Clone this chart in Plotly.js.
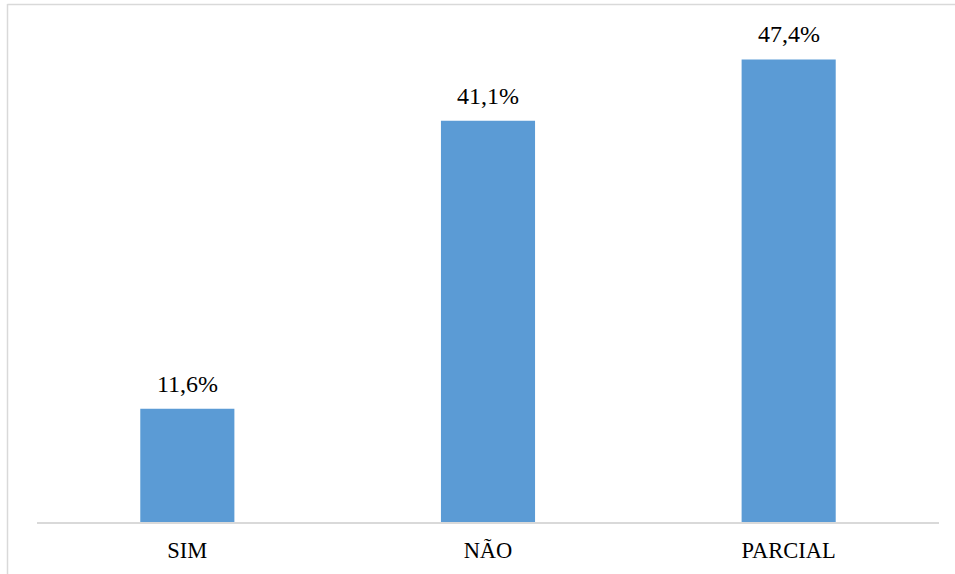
<!DOCTYPE html>
<html>
<head>
<meta charset="utf-8">
<script src="https://cdn.plot.ly/plotly-3.0.1.min.js"></script>
<style>
  html, body { margin: 0; padding: 0; background: #ffffff; }
</style>
</head>
<body>
<div id="fig" style="width:955px;height:574px"></div>
<script>
// Response categories and their shares (%)
const categories = ['SIM', 'NÃO', 'PARCIAL'];
const shares = [11.6, 41.1, 47.4];
const shareLabels = ['11,6%', '41,1%', '47,4%'];

const W = 955, H = 574;
const M = { l: 37, r: 16, t: 34, b: 52 };
const plotW = W - M.l - M.r, plotH = H - M.t - M.b;
const px2x = px => (px - M.l) / plotW;
const px2y = py => (H - M.b - py) / plotH;

const frameColor = '#d9d9d9';

const trace = {
  type: 'bar',
  x: categories,
  y: shares,
  width: 0.313,
  marker: { color: '#5B9BD5' },
  hoverinfo: 'none'
};

const annotations = categories.map((c, i) => ({
  x: c, y: shares[i], xref: 'x', yref: 'y',
  text: shareLabels[i], showarrow: false,
  yanchor: 'bottom', yshift: 10,
  font: { family: 'Liberation Serif', size: 24, color: '#000000' }
}));

const layout = {
  width: W, height: H,
  margin: M,
  paper_bgcolor: '#ffffff', plot_bgcolor: '#ffffff',
  showlegend: false,
  xaxis: {
    type: 'category',
    showline: true, linecolor: frameColor, linewidth: 1.5,
    ticks: '', showgrid: false, zeroline: false,
    tickfont: { family: 'Liberation Serif', size: 22.5, color: '#000000' },
    ticklabelstandoff: 7
  },
  yaxis: {
    range: [0, 50], visible: false, showgrid: false, zeroline: false
  },
  annotations: annotations,
  shapes: [
    { type: 'line', xref: 'paper', yref: 'paper',
      x0: px2x(7.5), x1: px2x(7.5), y0: px2y(4), y1: px2y(H),
      line: { color: frameColor, width: 1.5 } },
    { type: 'line', xref: 'paper', yref: 'paper',
      x0: px2x(7.5), x1: px2x(W), y0: px2y(4.5), y1: px2y(4.5),
      line: { color: frameColor, width: 1.5 } }
  ]
};

Plotly.newPlot('fig', [trace], layout, { displayModeBar: false });
</script>
</body>
</html>
